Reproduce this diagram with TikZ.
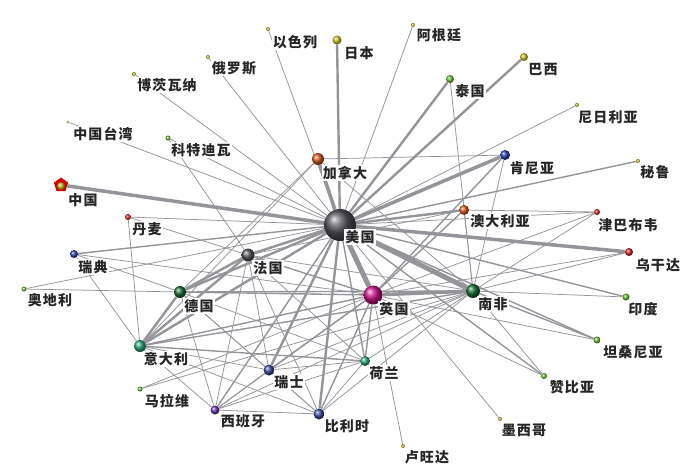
\documentclass[tikz,border=0pt]{standalone}
\usepackage{fontspec}
\usepackage{tikz}
\usetikzlibrary{shapes.geometric}
\newfontfamily\cjk[LetterSpace=8]{Noto Sans CJK SC}
\pgfdeclarelayer{bg}
\pgfsetlayers{bg,main}
\definecolor{edgec}{RGB}{148,148,154}
\definecolor{cusa}{RGB}{85,86,92}
\definecolor{corg}{RGB}{214,84,30}
\definecolor{cyel}{RGB}{200,190,30}
\definecolor{cgrn}{RGB}{105,190,50}
\definecolor{cblu}{RGB}{40,60,175}
\definecolor{cred}{RGB}{215,30,35}
\definecolor{cdgr}{RGB}{25,110,50}
\definecolor{cmag}{RGB}{205,20,140}
\definecolor{ctea}{RGB}{40,170,120}
\definecolor{cslt}{RGB}{60,72,155}
\definecolor{cpur}{RGB}{105,50,175}

\begin{document}
\begin{tikzpicture}[x=1pt,y=-1pt,
    cty/.style 2 args={circle,inner sep=0pt,minimum size=#1,shading=ball,ball color=#2},
    lbl/.style={fill=white,inner sep=1pt,font=\cjk\bfseries\fontsize{14}{14}\selectfont,text=black!85},
    heavy/.style={edgec,line width=5pt},
    thick3/.style={edgec,line width=3.5pt},
    wide/.style={edgec,line width=2.4pt},
    mid/.style={edgec,line width=1.4pt},
    thin1/.style={edgec,line width=0.75pt}]
\useasboundingbox (0,0) rectangle (700,472);

% countries
\foreach \n/\s/\c/\x/\y in {usa/32/cusa/340/225,uk/19/cmag/373/295,zaf/14/cdgr/473/291,fra/13/cusa/248/255,
    can/12/corg/318/159,deu/12/cdgr/180/292,ita/12/ctea/140/346,che/11/cslt/269/370,bel/11/cslt/319/414,
    nld/10/ctea/365/361,esp/9/cpur/215/410,ken/10/cblu/505/155,aus/10/corg/464/210,uga/8/cred/629/252,
    jpn/9/cyel/337/40,bra/8/cyel/524/57,tha/8/cgrn/450/79,swe/8/cblu/74/254,zwe/6/cred/597/212,
    ind/7/cgrn/626/297,tza/7/cgrn/597/340,zmb/6/cgrn/544/376,dnk/6/cred/128/217,mwi/5/cgrn/140/389,
    aut/5/cgrn/24/289,civ/5/cgrn/168/138,isr/4/cyel/268/29,arg/4/cyel/413/25,nga/4/cyel/577/105,
    per/4/cyel/638/161,mex/4/cyel/500/419,rwa/4/cyel/403/446,bwa/4/cyel/134/74,rus/4/cyel/208/57,
    twn/3/cyel/68/122}
    \node [cty={\s pt}{\c}] (\n) at (\x,\y) {};
\node [regular polygon,regular polygon sides=5,fill=red!85!black,inner sep=0pt,minimum size=15pt] (chn) at (61,185) {};
\node [cty={8pt}{cyel}] (chnb) at (61,186) {};

% links
\begin{pgfonlayer}{bg}
\foreach \a/\b in {usa/uk,usa/zaf}
    \draw [heavy] (\a) -- (\b);
\foreach \a/\b in {usa/chn,usa/can,usa/ken,uk/zaf,usa/uga}
    \draw [thick3] (\a) -- (\b);
\foreach \a/\b in {usa/jpn,usa/tha,usa/bra,usa/fra,usa/deu,usa/ita,usa/che,usa/bel,usa/aus,fra/ita,fra/deu,deu/ita}
    \draw [wide] (\a) -- (\b);
\foreach \a/\b in {usa/swe,usa/ind,usa/esp,usa/nld,usa/zmb,usa/tza,usa/per,uk/deu,uk/ita,uk/nld,uk/bel,uk/che,fra/uk,zaf/tza,ita/zaf,ita/nld,uk/aus,uk/ken,deu/zaf}
    \draw [mid] (\a) -- (\b);
\foreach \a/\b in {usa/isr,usa/arg,usa/rus,usa/bwa,usa/twn,usa/civ,usa/nga,usa/mex,usa/dnk,usa/aut,usa/zwe,
    can/ken,can/deu,can/ita,can/zaf,tha/zaf,ken/zaf,aus/zaf,aus/zwe,zwe/zaf,zwe/uk,uga/zaf,uga/uk,ind/zaf,
    tza/uk,zmb/uk,zmb/zaf,rwa/uk,mwi/uk,mwi/zaf,civ/fra,dnk/ita,dnk/fra,swe/deu,swe/ita,swe/uk,aut/deu,
    fra/che,fra/bel,fra/esp,fra/nld,fra/zaf,fra/aus,deu/che,deu/bel,deu/esp,deu/nld,
    ita/che,ita/bel,ita/esp,che/bel,che/nld,che/esp,che/zaf,bel/nld,bel/esp,bel/zaf,
    esp/uk,esp/nld,esp/zaf,nld/zaf}
    \draw [thin1] (\a) -- (\b);
\end{pgfonlayer}

% names
\node [lbl] (lusa) at (360,237) {美国};
\node [lbl] (luk) at (394,309) {英国};
\node [lbl] (lzaf) at (493,304) {南非};
\node [lbl] (lfra) at (268,268) {法国};
\node [lbl] (lcan) at (345,173) {加拿大};
\node [lbl] (ldeu) at (199,306) {德国};
\node [lbl] (lita) at (166,359) {意大利};
\node [lbl] (lche) at (289,382) {瑞士};
\node [lbl] (lbel) at (347,426) {比利时};
\node [lbl] (lnld) at (384,373) {荷兰};
\node [lbl] (lesp) at (243,421) {西班牙};
\node [lbl] (lken) at (532,168) {肯尼亚};
\node [lbl] (laus) at (500,221) {澳大利亚};
\node [lbl] (luga) at (658,265) {乌干达};
\node [lbl] (ljpn) at (359,53) {日本};
\node [lbl] (lbra) at (543,69) {巴西};
\node [lbl] (ltha) at (470,91) {泰国};
\node [lbl] (lswe) at (93,267) {瑞典};
\node [lbl] (lzwe) at (628,225) {津巴布韦};
\node [lbl] (lind) at (643,309) {印度};
\node [lbl] (ltza) at (633,352) {坦桑尼亚};
\node [lbl] (lzmb) at (572,387) {赞比亚};
\node [lbl] (ldnk) at (147,229) {丹麦};
\node [lbl] (lmwi) at (167,401) {马拉维};
\node [lbl] (laut) at (50,300) {奥地利};
\node [lbl] (lciv) at (201,150) {科特迪瓦};
\node [lbl] (lisr) at (295,42) {以色列};
\node [lbl] (larg) at (439,35) {阿根廷};
\node [lbl] (lnga) at (608,117) {尼日利亚};
\node [lbl] (lper) at (655,172) {秘鲁};
\node [lbl] (lmex) at (524,430) {墨西哥};
\node [lbl] (lrwa) at (427,457) {卢旺达};
\node [lbl] (lbwa) at (167,85) {博茨瓦纳};
\node [lbl] (lrus) at (234,68) {俄罗斯};
\node [lbl] (ltwn) at (103,134) {中国台湾};
\node [lbl] (lchn) at (83,200) {中国};
\end{tikzpicture}
\end{document}
